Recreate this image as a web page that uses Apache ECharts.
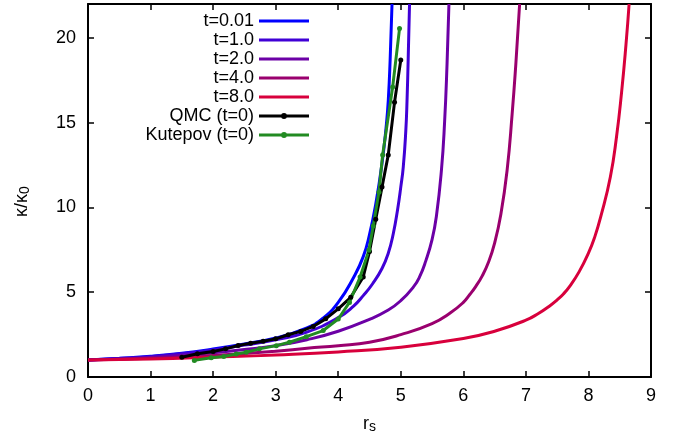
<!DOCTYPE html>
<html>
<head>
<meta charset="utf-8">
<script src="https://cdn.jsdelivr.net/npm/echarts@6/dist/echarts.min.js"></script>
<style>
  html, body { margin: 0; padding: 0; background: #ffffff; }
  #chart { width: 685px; height: 441px; }
</style>
</head>
<body>
<div id="chart"></div>
<script>
// Inverse compressibility ratio kappa/kappa0 versus r_s at several reduced temperatures t

// t = 0.01
const rsT001  = [0, 0.5, 1.0, 1.5, 2.0, 2.5, 3.0, 3.5, 3.75, 4.0, 4.25, 4.4, 4.5, 4.6, 4.7, 4.77, 4.8, 4.83, 4.86];
const kapT001 = [1.0, 1.1, 1.22, 1.4, 1.65, 1.95, 2.3, 2.9, 3.45, 4.4, 5.9, 7.1, 8.4, 10.2, 12.6, 14.9, 16.3, 18.7, 22.0];

// t = 1.0
const rsT1  = [0, 0.5, 1.0, 1.5, 2.0, 2.5, 3.0, 3.5, 4.0, 4.25, 4.4, 4.55, 4.7, 4.8, 4.88, 4.95, 5.0, 5.04, 5.08, 5.1, 5.12, 5.14];
const kapT1 = [1.0, 1.09, 1.2, 1.37, 1.6, 1.88, 2.2, 2.65, 3.5, 4.2, 4.8, 5.5, 6.4, 7.3, 8.45, 9.9, 11.2, 12.4, 14.5, 16.3, 19.0, 22.0];

// t = 2.0
const rsT2  = [0, 0.5, 1.0, 1.5, 2.0, 2.5, 3.0, 3.5, 4.0, 4.5, 4.8, 5.0, 5.2, 5.3, 5.4, 5.5, 5.57, 5.65, 5.7, 5.74, 5.77];
const kapT2 = [1.0, 1.06, 1.15, 1.28, 1.43, 1.62, 1.85, 2.2, 2.7, 3.4, 3.95, 4.5, 5.3, 5.9, 6.85, 8.1, 9.5, 12.2, 15.0, 18.5, 22.0];

// t = 4.0
const rsT4  = [0, 1.0, 2.0, 3.0, 3.5, 4.0, 4.5, 5.0, 5.5, 5.8, 6.0, 6.1, 6.2, 6.3, 6.4, 6.5, 6.6, 6.7, 6.78, 6.84, 6.9];
const kapT4 = [1.0, 1.1, 1.27, 1.52, 1.7, 1.85, 2.05, 2.5, 3.15, 3.8, 4.4, 4.85, 5.35, 5.95, 6.75, 7.9, 9.6, 12.2, 15.5, 18.5, 22.0];

// t = 8.0
const rsT8  = [0, 1.0, 2.0, 3.0, 4.0, 5.0, 6.0, 6.5, 7.0, 7.2, 7.4, 7.5, 7.6, 7.7, 7.85, 8.0, 8.1, 8.2, 8.35, 8.45, 8.53, 8.6, 8.65];
const kapT8 = [1.0, 1.06, 1.17, 1.3, 1.48, 1.76, 2.27, 2.7, 3.35, 3.75, 4.25, 4.55, 4.9, 5.35, 6.2, 7.3, 8.25, 9.5, 11.8, 14.2, 16.8, 19.6, 22.0];

// QMC, t = 0
const rsQmc  = [1.5, 1.75, 2.0, 2.2, 2.4, 2.6, 2.8, 3.0, 3.2, 3.4, 3.6, 3.8, 4.0, 4.2, 4.4, 4.5, 4.6, 4.7, 4.8, 4.9, 5.0];
const kapQmc = [1.17, 1.37, 1.5, 1.66, 1.86, 1.99, 2.11, 2.25, 2.49, 2.69, 2.98, 3.43, 4.02, 4.7, 5.9, 7.4, 9.3, 11.2, 13.1, 16.2, 18.7];

// Kutepov, t = 0
const rsKut  = [1.7, 1.97, 2.17, 2.37, 2.53, 2.74, 3.01, 3.22, 3.49, 3.76, 4.0, 4.18, 4.35, 4.49, 4.56, 4.65, 4.71, 4.87, 4.98];
const kapKut = [0.98, 1.13, 1.21, 1.36, 1.46, 1.66, 1.85, 2.05, 2.38, 2.74, 3.42, 4.4, 5.9, 7.47, 8.9, 10.9, 13.1, 17.1, 20.55];

const seriesNames = ['t=0.01', 't=1.0', 't=2.0', 't=4.0', 't=8.0', 'QMC (t=0)', 'Kutepov (t=0)'];
const seriesColors = ['#0000ff', '#4000d6', '#6c00a6', '#9a006e', '#d8003c', '#000000', '#228b22'];

const xMin = 0, xMax = 9, xStep = 1;
const yMin = 0, yMax = 22, yStep = 5;

const FONT = 'Liberation Sans, Arial, Helvetica, sans-serif';
const FS = 18;

function pairs(xs, ys) {
  return xs.map((x, i) => [x, ys[i]]);
}

const curveData = [
  pairs(rsT001, kapT001),
  pairs(rsT1, kapT1),
  pairs(rsT2, kapT2),
  pairs(rsT4, kapT4),
  pairs(rsT8, kapT8)
];

const series = curveData.map((d, i) => ({
  name: seriesNames[i],
  type: 'line',
  data: d,
  symbol: 'none',
  smooth: 0.5,
  clip: true,
  lineStyle: { color: seriesColors[i], width: 3 },
  itemStyle: { color: seriesColors[i] },
  emphasis: { disabled: true },
  animation: false
}));

[[rsQmc, kapQmc], [rsKut, kapKut]].forEach((d, j) => {
  const i = 5 + j;
  series.push({
    name: seriesNames[i],
    type: 'line',
    data: pairs(d[0], d[1]),
    symbol: 'circle',
    symbolSize: 5,
    showSymbol: true,
    clip: true,
    lineStyle: { color: seriesColors[i], width: 3 },
    itemStyle: { color: seriesColors[i] },
    emphasis: { disabled: true },
    animation: false
  });
});

// legend keys: a plain bar for the model curves, a bar with a dot for the data sets
const lineKey = 'path://M0,-1.5H50V1.5H0Z';
const dotKey = 'path://M0,-1.5H50V1.5H0Z M22,0A3,3 0 1,1 28,0A3,3 0 1,1 22,0Z M0,-3H0.01V3H0Z';
const legendData = seriesNames.map((n, i) => ({ name: n, icon: i < 5 ? lineKey : dotKey }));

const tickStyle = { show: true, inside: true, length: 6, lineStyle: { color: '#000', width: 1.5 } };
const frameLine = { show: true, onZero: false, lineStyle: { color: '#000', width: 2 } };

const chart = echarts.init(document.getElementById('chart'), null, { renderer: 'canvas' });
chart.setOption({
  backgroundColor: '#ffffff',
  animation: false,
  textStyle: { fontFamily: FONT },
  grid: { left: 88, right: 34, top: 4, bottom: 64, containLabel: false },
  legend: {
    orient: 'vertical',
    align: 'right',
    right: 371,
    top: 7,
    itemWidth: 50,
    itemHeight: 14,
    itemGap: 1,
    data: legendData,
    selectedMode: false,
    textStyle: { fontFamily: FONT, fontSize: FS, lineHeight: 18, color: '#000' }
  },
  xAxis: [
    {
      type: 'value', min: xMin, max: xMax, interval: xStep,
      position: 'bottom',
      axisLine: frameLine,
      axisTick: tickStyle,
      splitLine: { show: false },
      axisLabel: { color: '#000', fontSize: FS, fontFamily: FONT, margin: 10 },
      name: '{a|r}{b|s}',
      nameLocation: 'middle',
      nameGap: 37,
      nameTextStyle: {
        rich: {
          a: { fontSize: FS, fontFamily: FONT, color: '#000', lineHeight: 20 },
          b: { fontSize: 14, fontFamily: FONT, color: '#000', lineHeight: 20, verticalAlign: 'bottom', padding: [8, 0, 0, 0] }
        }
      }
    },
    {
      type: 'value', min: xMin, max: xMax, interval: xStep,
      position: 'top',
      axisLine: frameLine,
      axisTick: tickStyle,
      splitLine: { show: false },
      axisLabel: { show: false }
    }
  ],
  yAxis: [
    {
      type: 'value', min: yMin, max: yMax, interval: yStep,
      position: 'left',
      axisLine: frameLine,
      axisTick: tickStyle,
      splitLine: { show: false },
      axisLabel: {
        color: '#000', fontSize: FS, fontFamily: FONT, margin: 12,
        formatter: v => (v % yStep === 0 ? String(v) : '')
      },
      name: '{a|κ/κ}{b|0}',
      nameLocation: 'middle',
      nameGap: 56,
      nameTextStyle: {
        padding: [0, 22, 0, 0],
        rich: {
          a: { fontSize: FS, fontFamily: FONT, color: '#000', lineHeight: 20 },
          b: { fontSize: 14, fontFamily: FONT, color: '#000', lineHeight: 20, verticalAlign: 'bottom', padding: [8, 0, 0, 0] }
        }
      }
    },
    {
      type: 'value', min: yMin, max: yMax, interval: yStep,
      position: 'right',
      axisLine: frameLine,
      axisTick: tickStyle,
      splitLine: { show: false },
      axisLabel: { show: false }
    }
  ],
  series: series
});
</script>
</body>
</html>
